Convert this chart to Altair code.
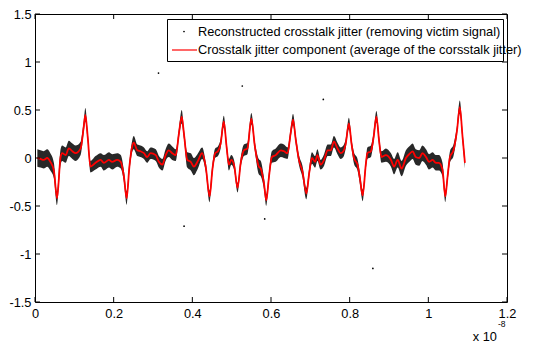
import altair as alt
import pandas as pd

# time axis (units of 1e-8 s)
t = [0.006, 0.014, 0.022, 0.031, 0.039, 0.048, 0.056, 0.065, 0.069, 0.078,
     0.086, 0.095, 0.103, 0.116, 0.124, 0.128, 0.134, 0.141, 0.154, 0.167,
     0.175, 0.188, 0.196, 0.209, 0.218, 0.226, 0.233, 0.240, 0.246, 0.251,
     0.260, 0.268, 0.277, 0.285, 0.294, 0.307, 0.315, 0.324, 0.332, 0.340,
     0.349, 0.358, 0.366, 0.373, 0.379, 0.387, 0.396, 0.404, 0.413, 0.425,
     0.434, 0.444, 0.451, 0.458, 0.465, 0.472, 0.480, 0.487, 0.493, 0.499,
     0.506, 0.515, 0.523, 0.531, 0.540, 0.550, 0.559, 0.569, 0.574, 0.582,
     0.588, 0.595, 0.602, 0.612, 0.625, 0.633, 0.642, 0.650, 0.656, 0.663,
     0.671, 0.680, 0.690, 0.697, 0.704, 0.712, 0.718, 0.726, 0.735, 0.744,
     0.752, 0.760, 0.769, 0.777, 0.784, 0.790, 0.798, 0.805, 0.811, 0.820,
     0.826, 0.833, 0.841, 0.845, 0.854, 0.861, 0.868, 0.875, 0.881, 0.892,
     0.905, 0.913, 0.922, 0.932, 0.943, 0.954, 0.960, 0.968, 0.977, 0.985,
     0.994, 1.002, 1.011, 1.019, 1.027, 1.036, 1.043, 1.049, 1.055, 1.064,
     1.073, 1.080, 1.087, 1.093]

# crosstalk jitter component (average)
jitter_avg = [0.00, -0.01, -0.02, 0.00, -0.04, -0.13, -0.42, 0.01, 0.05, 0.03,
              0.10, 0.07, 0.05, 0.10, 0.33, 0.45, 0.22, -0.09, -0.05, -0.02,
              -0.05, -0.02, -0.04, -0.02, -0.04, -0.19, -0.42, -0.09, 0.10, 0.16,
              0.08, 0.07, 0.05, 0.01, 0.05, 0.03, -0.04, -0.07, 0.03, 0.08,
              0.05, 0.03, 0.26, 0.43, 0.24, -0.02, -0.04, -0.09, -0.04, 0.05,
              -0.09, -0.40, -0.12, 0.05, 0.07, 0.15, 0.38, 0.12, -0.07, -0.02,
              -0.07, -0.31, -0.05, 0.08, 0.10, 0.41, 0.12, -0.09, -0.11, -0.26,
              -0.44, -0.19, 0.01, 0.03, 0.08, 0.07, 0.05, 0.26, 0.40, 0.19,
              -0.02, -0.14, -0.37, -0.16, 0.00, -0.04, 0.03, -0.07, -0.02, 0.08,
              0.08, 0.17, 0.10, 0.05, 0.07, 0.15, 0.36, 0.14, 0.00, -0.07,
              -0.21, -0.39, -0.07, 0.05, 0.07, 0.22, 0.43, 0.17, 0.01, 0.03,
              -0.02, -0.09, -0.02, -0.11, 0.00, 0.05, 0.07, 0.01, 0.00, 0.05,
              0.01, -0.04, -0.02, -0.05, -0.05, -0.12, -0.40, -0.19, 0.01, 0.08,
              0.29, 0.53, 0.22, -0.05]

# half-spread of the reconstructed (noisy) jitter cloud around the average
cloud_spread = [.09, .09, .09, .09, .09, .08, .07, .08, .08, .08,
                .08, .08, .08, .07, .06, .07, .05, .06, .07, .07,
                .08, .08, .08, .07, .07, .06, .07, .05, .06, .07,
                .06, .06, .06, .06, .06, .06, .06, .06, .06, .07,
                .07, .06, .05, .07, .05, .08, .09, .09, .08, .06,
                .05, .06, .05, .05, .05, .05, .06, .05, .06, .05,
                .05, .05, .05, .06, .06, .06, .05, .08, .08, .06,
                .06, .05, .06, .07, .07, .07, .06, .05, .06, .05,
                .05, .06, .06, .05, .06, .06, .06, .05, .06, .06,
                .06, .06, .06, .06, .06, .05, .06, .05, .06, .06,
                .06, .06, .05, .06, .06, .05, .06, .05, .06, .07,
                .07, .08, .08, .08, .08, .08, .08, .08, .08, .08,
                .08, .08, .08, .08, .08, .07, .06, .05, .06, .06,
                .05, .07, .05, .06]

# stray reconstructed samples
outlier_t = [0.314, 0.527, 0.733, 0.584, 0.379, 0.859]
outlier_y = [0.885, 0.75, 0.61, -0.635, -0.71, -1.15]

x_ticks = [0, 0.2, 0.4, 0.6, 0.8, 1.0, 1.2]
y_ticks = [-1.5, -1, -0.5, 0, 0.5, 1, 1.5]

legend_labels = ["Reconstructed crosstalk jitter (removing victim signal)",
                 "Crosstalk jitter component (average of the corsstalk jitter)"]

W, H = 472, 288
FONT = "Liberation Sans"
FS = 12.8

df = pd.DataFrame({
    "t": t,
    "avg": jitter_avg,
    "lo": [a - s for a, s in zip(jitter_avg, cloud_spread)],
    "hi": [a + s for a, s in zip(jitter_avg, cloud_spread)],
})
df_out = pd.DataFrame({"t": outlier_t, "y": outlier_y})
df_xt = pd.DataFrame({"t": x_ticks})
df_yt = pd.DataFrame({"v": y_ticks})
one = pd.DataFrame({"a": [0]})

xs = alt.Scale(domain=[0, 1.2], nice=False, zero=False)
ys = alt.Scale(domain=[-1.5, 1.5], nice=False, zero=False)

x_axis = alt.Axis(values=x_ticks, labelExpr="'' + datum.value", domain=False,
                  ticks=False, grid=False, title=None, labelFont=FONT,
                  labelFontSize=FS, labelColor="black", labelPadding=5,
                  labelFlush=False, labelOverlap=False)
y_axis = alt.Axis(values=y_ticks, labelExpr="'' + datum.value", domain=False,
                  ticks=False, grid=False, title=None, labelFont=FONT,
                  labelFontSize=FS, labelColor="black", labelPadding=4,
                  labelFlush=False, labelOverlap=False)

cloud = alt.Chart(df).mark_area(color="#111111", opacity=0.9, interpolate="monotone").encode(
    x=alt.X("t:Q", scale=xs, axis=x_axis),
    y=alt.Y("lo:Q", scale=ys, axis=y_axis),
    y2="hi:Q",
)
stray = alt.Chart(df_out).mark_circle(color="black", size=3, opacity=1).encode(
    x=alt.X("t:Q", scale=xs, axis=x_axis),
    y=alt.Y("y:Q", scale=ys, axis=y_axis),
)
avg_line = alt.Chart(df).mark_line(color="#ff0000", strokeWidth=1.8, interpolate="monotone").encode(
    x=alt.X("t:Q", scale=xs, axis=x_axis),
    y=alt.Y("avg:Q", scale=ys, axis=y_axis),
)

tick_len = 5
bt = alt.Chart(df_xt).mark_rule(color="black", strokeWidth=1).encode(
    x=alt.X("t:Q", scale=xs, axis=x_axis), y=alt.value(H), y2=alt.value(H - tick_len))
tt = alt.Chart(df_xt).mark_rule(color="black", strokeWidth=1).encode(
    x=alt.X("t:Q", scale=xs, axis=x_axis), y=alt.value(0), y2=alt.value(tick_len))
lt = alt.Chart(df_yt).mark_rule(color="black", strokeWidth=1).encode(
    y=alt.Y("v:Q", scale=ys, axis=y_axis), x=alt.value(0), x2=alt.value(tick_len))
rt = alt.Chart(df_yt).mark_rule(color="black", strokeWidth=1).encode(
    y=alt.Y("v:Q", scale=ys, axis=y_axis), x=alt.value(W), x2=alt.value(W - tick_len))

# legend
leg_box = alt.Chart(one).mark_rect(fill="white", stroke="black", strokeWidth=1).encode(
    x=alt.value(132.5), x2=alt.value(468.5), y=alt.value(5.5), y2=alt.value(47.5))
leg_dot = alt.Chart(one).mark_circle(color="black", size=3, opacity=1).encode(
    x=alt.value(149), y=alt.value(17.5))
leg_line = alt.Chart(one).mark_rule(color="#ff0000", strokeWidth=1.2).encode(
    x=alt.value(137), x2=alt.value(162), y=alt.value(36), y2=alt.value(36))
leg_t1 = alt.Chart(one).mark_text(text=legend_labels[0], font=FONT, fontSize=FS,
                                  align="left", baseline="middle", color="black").encode(
    x=alt.value(163), y=alt.value(18))
leg_t2 = alt.Chart(one).mark_text(text=legend_labels[1], font=FONT, fontSize=FS,
                                  align="left", baseline="middle", color="black").encode(
    x=alt.value(163), y=alt.value(36))

# axis multiplier
mult = alt.Chart(one).mark_text(text="x 10", font=FONT, fontSize=FS, align="right",
                                baseline="alphabetic", color="black").encode(
    x=alt.value(462), y=alt.value(327))
expo = alt.Chart(one).mark_text(text="-8", font=FONT, fontSize=8.5, align="left",
                                baseline="alphabetic", color="black").encode(
    x=alt.value(463), y=alt.value(313))

chart = alt.layer(
    cloud, stray, avg_line, bt, tt, lt, rt,
    leg_box, leg_dot, leg_line, leg_t1, leg_t2, mult, expo,
).properties(
    width=W, height=H,
    padding={"left": 27, "top": 6, "right": 38, "bottom": 41},
    autosize=alt.AutoSizeParams(type="none"),
    background="white",
).configure_view(stroke="black", strokeWidth=1)

chart.save("out.html", embed_options={"renderer": "svg", "actions": False})
